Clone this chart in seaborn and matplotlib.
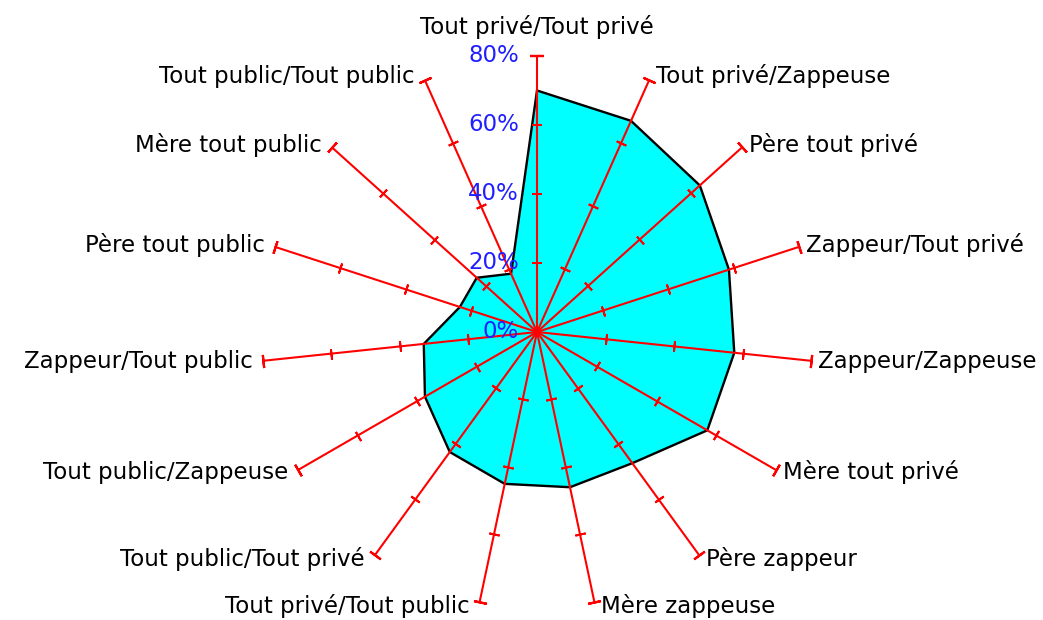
import numpy as np
import pandas as pd
import matplotlib
matplotlib.use("Agg")
import matplotlib.pyplot as plt
import seaborn as sns

# ---- data ----
categories = [
    "Tout privé/Tout privé", "Tout privé/Zappeuse", "Père tout privé",
    "Zappeur/Tout privé", "Zappeur/Zappeuse", "Mère tout privé",
    "Père zappeur", "Mère zappeuse", "Tout privé/Tout public",
    "Tout public/Tout privé", "Tout public/Zappeuse", "Zappeur/Tout public",
    "Père tout public", "Mère tout public", "Tout public/Tout public",
]
values = [70, 67, 63.5, 58.5, 57.5, 57, 47, 46, 45, 43, 37.5, 33, 23.5, 23.5, 18.5]
radial_ticks = [0, 20, 40, 60, 80]
radial_labels = ["0%", "20%", "40%", "60%", "80%"]

# ---- style ----
sns.set_theme(style="white")
plt.rcParams["font.family"] = ["DejaVu Sans"]
FS = 16.5
W, H = 1043, 620

fig = plt.figure(figsize=(W / 100, H / 100), dpi=100)
fig.patch.set_facecolor("white")
cx, cy, R = 537, 332, 276
ax = fig.add_axes([(cx - R) / W, (H - cy - R) / H, 2 * R / W, 2 * R / H], projection="polar")
ax.set_theta_zero_location("N")
ax.set_theta_direction(-1)
ax.set_ylim(0, radial_ticks[-1])
ax.set_axis_off()

n = len(categories)
theta_deg = np.arange(n) * 360.0 / n
theta = np.deg2rad(theta_deg)

# filled polygon
ax.fill(theta, values, color="#00FFFF", zorder=1, lw=0)
poly = pd.DataFrame({"theta": np.append(theta, theta[0]), "r": np.append(values, values[0])})
sns.lineplot(data=poly, x="theta", y="r", sort=False, estimator=None,
             color="black", lw=1.7, ax=ax, zorder=2)

# radial axes (red)
rows = []
for i, t in enumerate(theta):
    rows.append({"axis": i, "theta": t, "r": radial_ticks[0]})
    rows.append({"axis": i, "theta": t, "r": radial_ticks[-1]})
axes_df = pd.DataFrame(rows)
sns.lineplot(data=axes_df, x="theta", y="r", units="axis", estimator=None,
             color="red", lw=1.5, ax=ax, zorder=3, legend=False)

# tick marks on every axis
for t, d in zip(theta, theta_deg):
    mk = (2, 2, 90 - d)
    ax.plot([t] * 3, radial_ticks[1:-1], ls="none", marker=mk, ms=7.5,
            mec="red", mew=1.4, zorder=4, clip_on=False)
    ax.plot([t], [radial_ticks[-1]], ls="none", marker=mk, ms=9.5,
            mec="red", mew=1.6, zorder=4, clip_on=False)

ax.set_xlabel("")
ax.set_ylabel("")

# radial labels (blue) along the top axis
for rv, lab in zip(radial_ticks, radial_labels):
    ax.annotate(lab, xy=(0, rv), xytext=(-18, 0), textcoords="offset pixels",
                ha="right", va="center", color="#1f1fff", fontsize=FS,
                zorder=5, annotation_clip=False)

# category labels
for t, d, lab in zip(theta, theta_deg, categories):
    s, c = np.sin(t), np.cos(t)
    if abs(s) < 1e-6:
        off, ha = (0, 29), "center"
    elif s > 0:
        off, ha = (7, 4 * c), "left"
    else:
        off, ha = (-10, 4 * c), "right"
    ax.annotate(lab, xy=(t, radial_ticks[-1]), xytext=off, textcoords="offset pixels",
                ha=ha, va="center", color="black", fontsize=FS,
                annotation_clip=False)

fig.savefig("out.png", dpi=100, facecolor="white")
